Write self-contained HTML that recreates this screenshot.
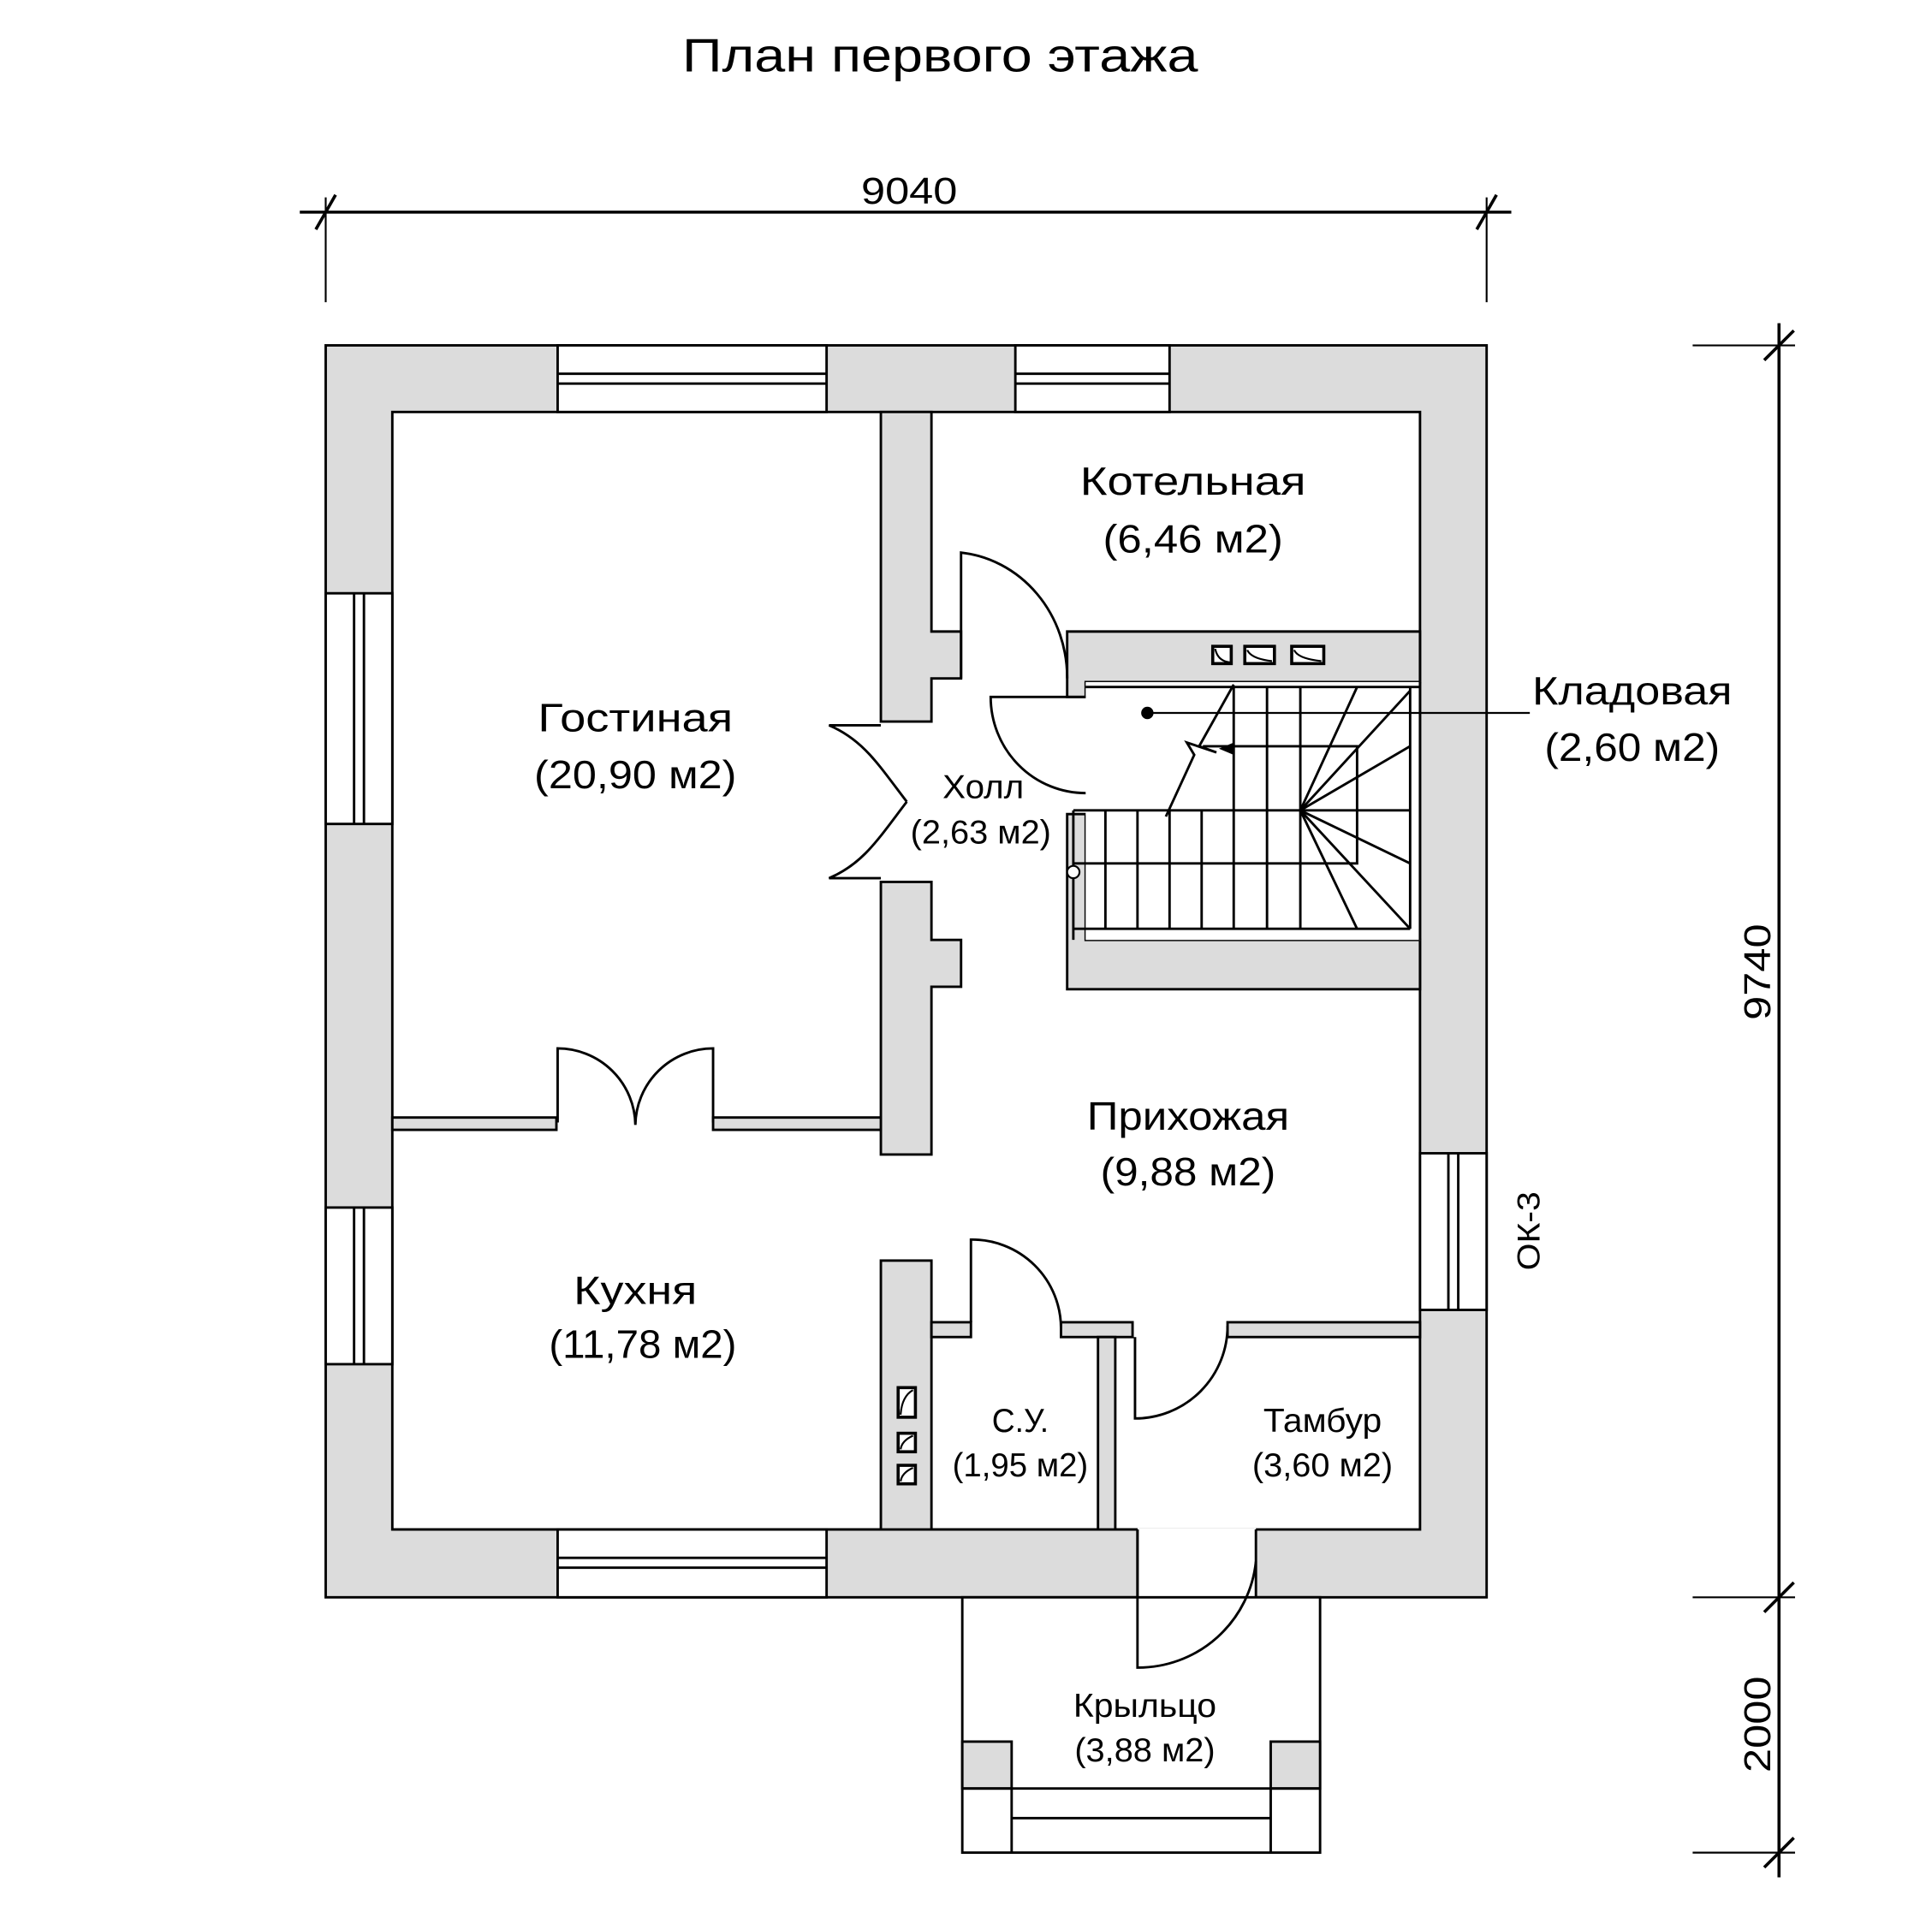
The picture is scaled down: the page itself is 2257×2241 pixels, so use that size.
<!DOCTYPE html>
<html><head><meta charset="utf-8"><style>
html,body{margin:0;padding:0;background:#fff;}
svg{display:block}
text{font-family:"Liberation Sans","DejaVu Sans",sans-serif;fill:#000;}
</style></head><body>
<svg width="2257" height="2241" viewBox="0 0 1566 1555" preserveAspectRatio="none" xmlns="http://www.w3.org/2000/svg">
<text x="762" y="58" font-size="38" text-anchor="middle" textLength="418" lengthAdjust="spacingAndGlyphs" font-weight="300">План первого этажа</text>

<g stroke="#000" fill="none">
<line x1="243" y1="172" x2="1225" y2="172" stroke-width="2.5"/>
<line x1="264" y1="160" x2="264" y2="245" stroke-width="1.5"/>
<line x1="1205" y1="160" x2="1205" y2="245" stroke-width="1.5"/>
<line x1="256" y1="186" x2="272" y2="158" stroke-width="2.5"/>
<line x1="1197" y1="186" x2="1213" y2="158" stroke-width="2.5"/>
<line x1="1442" y1="262" x2="1442" y2="1522" stroke-width="2.5"/>
<line x1="1372" y1="280" x2="1455" y2="280" stroke-width="1.5"/>
<line x1="1372" y1="1295" x2="1455" y2="1295" stroke-width="1.5"/>
<line x1="1372" y1="1502" x2="1455" y2="1502" stroke-width="1.5"/>
<line x1="1430" y1="292" x2="1454" y2="268" stroke-width="2.5"/>
<line x1="1430" y1="1307" x2="1454" y2="1283" stroke-width="2.5"/>
<line x1="1430" y1="1514" x2="1454" y2="1490" stroke-width="2.5"/>
</g>
<text x="737" y="165" font-size="30" text-anchor="middle" textLength="78" lengthAdjust="spacingAndGlyphs">9040</text>
<text transform="translate(1435,788) rotate(-90)" font-size="30" text-anchor="middle" textLength="78" lengthAdjust="spacingAndGlyphs">9740</text>
<text transform="translate(1435,1398) rotate(-90)" font-size="30" text-anchor="middle" textLength="78" lengthAdjust="spacingAndGlyphs">2000</text>
<text transform="translate(1248,998) rotate(-90)" font-size="26" text-anchor="middle" textLength="64" lengthAdjust="spacingAndGlyphs">ОК-3</text>

<g stroke="#000" stroke-width="2">
<rect x="264" y="280" width="941" height="1015" fill="#dcdcdc"/>
<rect x="318" y="334" width="833" height="906" fill="#fff"/>
<g fill="#fff">
<rect x="452" y="280" width="218" height="54"/>
<rect x="823" y="280" width="125" height="54"/>
<rect x="264" y="481" width="54" height="187"/>
<rect x="264" y="979" width="54" height="127"/>
<rect x="452" y="1240" width="218" height="55"/>
<rect x="1151" y="935" width="54" height="127"/>
</g>
<g fill="none">
<line x1="452" y1="303" x2="670" y2="303"/><line x1="452" y1="311" x2="670" y2="311"/>
<line x1="823" y1="303" x2="948" y2="303"/><line x1="823" y1="311" x2="948" y2="311"/>
<line x1="287" y1="481" x2="287" y2="668"/><line x1="295" y1="481" x2="295" y2="668"/>
<line x1="287" y1="979" x2="287" y2="1106"/><line x1="295" y1="979" x2="295" y2="1106"/>
<line x1="452" y1="1263" x2="670" y2="1263"/><line x1="452" y1="1271" x2="670" y2="1271"/>
<line x1="1174" y1="935" x2="1174" y2="1062"/><line x1="1182" y1="935" x2="1182" y2="1062"/>
</g>
<rect x="922" y="1239" width="96" height="57" fill="#fff" stroke="none"/>
<line x1="922" y1="1240" x2="922" y2="1295"/><line x1="1018" y1="1240" x2="1018" y2="1295"/>
<line x1="318" y1="1240" x2="922" y2="1240"/>

<g fill="#dcdcdc">
<path d="M714,334 L755,334 L755,512 L779,512 L779,550 L755,550 L755,585 L714,585 Z"/>
<path d="M714,715 L755,715 L755,762 L779,762 L779,800 L755,800 L755,936 L714,936 Z"/>
<path d="M865,512 L1151,512 L1151,553 L880,553 L880,565 L865,565 Z"/>
<path d="M865,802 L1151,802 L1151,762 L880,762 L880,660 L865,660 Z"/>
<rect x="714" y="1022" width="41" height="218"/>
<rect x="318" y="906" width="133" height="10"/>
<rect x="578" y="906" width="136" height="10"/>
<rect x="755" y="1072" width="32" height="12"/>
<rect x="860" y="1072" width="58" height="12"/>
<rect x="890" y="1084" width="14" height="156"/>
<rect x="995" y="1072" width="156" height="12"/>
</g>
<rect x="880" y="553" width="271" height="209" fill="#fff" stroke="none"/>
<line x1="1151" y1="553" x2="1151" y2="762"/>

<g fill="#fff" stroke-width="2.5">
<rect x="983" y="524" width="15" height="14"/>
<rect x="1009" y="524" width="24" height="14"/>
<rect x="1047" y="524" width="26" height="14"/>
<rect x="728" y="1125" width="14" height="24"/>
<rect x="728" y="1162" width="14" height="15"/>
<rect x="728" y="1188" width="14" height="15"/>
</g>
<g fill="none" stroke-width="1.5">
<path d="M985,526 Q987,536 997,537"/><path d="M1011,527 Q1014,534 1031,536"/><path d="M1049,527 Q1052,534 1071,536"/>
<path d="M740,1127 Q731,1132 730,1147"/><path d="M740,1164 Q731,1168 730,1175"/><path d="M740,1190 Q731,1194 730,1201"/>
</g>

<rect x="780" y="1295" width="290" height="207" fill="#fff"/>
<rect x="780" y="1412" width="40" height="38" fill="#dcdcdc"/>
<rect x="1030" y="1412" width="40" height="38" fill="#dcdcdc"/>
<line x1="780" y1="1450" x2="1070" y2="1450"/>
<line x1="820" y1="1450" x2="820" y2="1502"/>
<line x1="1030" y1="1450" x2="1030" y2="1502"/>
<line x1="820" y1="1474" x2="1030" y2="1474"/>
</g>

<g stroke="#000" stroke-width="2" fill="none">
<line x1="870" y1="657" x2="870" y2="762"/>
<line x1="870" y1="753" x2="1143" y2="753"/>
<line x1="1143" y1="557" x2="1143" y2="753"/>
<line x1="880" y1="557" x2="1151" y2="557"/>
<line x1="870" y1="657" x2="1143" y2="657"/>
<line x1="896" y1="657" x2="896" y2="753"/>
<line x1="922" y1="657" x2="922" y2="753"/>
<line x1="948" y1="657" x2="948" y2="753"/>
<line x1="974" y1="657" x2="974" y2="753"/>
<line x1="1000" y1="557" x2="1000" y2="753"/>
<line x1="1027" y1="557" x2="1027" y2="753"/>
<line x1="1054" y1="557" x2="1054" y2="753"/>
<polyline points="975,605 1100,605 1100,700 870,700"/>
<line x1="1054" y1="657" x2="1100" y2="557"/>
<line x1="1054" y1="657" x2="1143" y2="560"/>
<line x1="1054" y1="657" x2="1143" y2="605"/>
<line x1="1054" y1="657" x2="1143" y2="700"/>
<line x1="1054" y1="657" x2="1143" y2="753"/>
<line x1="1054" y1="657" x2="1100" y2="753"/>
<polyline points="1000,555 972,605 986,610 962,602 968,612 945,662"/>
<line x1="930" y1="578" x2="1240" y2="578" stroke-width="1.5"/>
</g>
<polygon points="988,607 1000,602 1000,612" fill="#000"/>
<circle cx="930" cy="578" r="5" fill="#000"/>
<circle cx="870" cy="707" r="5" fill="#fff" stroke="#000" stroke-width="1.5"/>

<g stroke="#000" stroke-width="2" fill="none">
<path d="M779,550 L779,448 A96,102 0 0 1 865,550"/>
<path d="M880,565 L803,565 A77,78 0 0 0 880,643"/>
<path d="M714,588 L672,588 C700,600 712,620 735,650 M714,712 L672,712 C700,700 712,680 735,650"/>
<path d="M452,910 L452,850 A63,63 0 0 1 515,912 M578,910 L578,850 A63,63 0 0 0 515,912"/>
<path d="M787,1072 L787,1005 A72,72 0 0 1 860,1077"/>
<path d="M920,1084 L920,1150 A75,75 0 0 0 995,1075"/>
<path d="M922,1240 L922,1352 A96,96 0 0 0 1018,1266"/>
</g>

<g font-size="32" text-anchor="middle">
<text x="967" y="401" textLength="183" lengthAdjust="spacingAndGlyphs">Котельная</text>
<text x="967" y="448" textLength="146" lengthAdjust="spacingAndGlyphs">(6,46 м2)</text>
<text x="515" y="593" textLength="158" lengthAdjust="spacingAndGlyphs">Гостиная</text>
<text x="515" y="639" textLength="164" lengthAdjust="spacingAndGlyphs">(20,90 м2)</text>
<text x="1323" y="571" textLength="162" lengthAdjust="spacingAndGlyphs">Кладовая</text>
<text x="1323" y="617" textLength="142" lengthAdjust="spacingAndGlyphs">(2,60 м2)</text>
<text x="963" y="916" textLength="164" lengthAdjust="spacingAndGlyphs">Прихожая</text>
<text x="963" y="961" textLength="142" lengthAdjust="spacingAndGlyphs">(9,88 м2)</text>
<text x="515" y="1057" textLength="100" lengthAdjust="spacingAndGlyphs">Кухня</text>
<text x="521" y="1101" textLength="152" lengthAdjust="spacingAndGlyphs">(11,78 м2)</text>
</g>
<g font-size="27" text-anchor="middle">
<text x="797" y="647" textLength="66" lengthAdjust="spacingAndGlyphs">Холл</text>
<text x="795" y="684" textLength="114" lengthAdjust="spacingAndGlyphs">(2,63 м2)</text>
<text x="827" y="1161" textLength="46" lengthAdjust="spacingAndGlyphs">С.У.</text>
<text x="827" y="1197" textLength="110" lengthAdjust="spacingAndGlyphs">(1,95 м2)</text>
<text x="1072" y="1161" textLength="96" lengthAdjust="spacingAndGlyphs">Тамбур</text>
<text x="1072" y="1197" textLength="114" lengthAdjust="spacingAndGlyphs">(3,60 м2)</text>
<text x="928" y="1392" textLength="116" lengthAdjust="spacingAndGlyphs">Крыльцо</text>
<text x="928" y="1428" textLength="114" lengthAdjust="spacingAndGlyphs">(3,88 м2)</text>
</g>
</svg>
</body></html>
